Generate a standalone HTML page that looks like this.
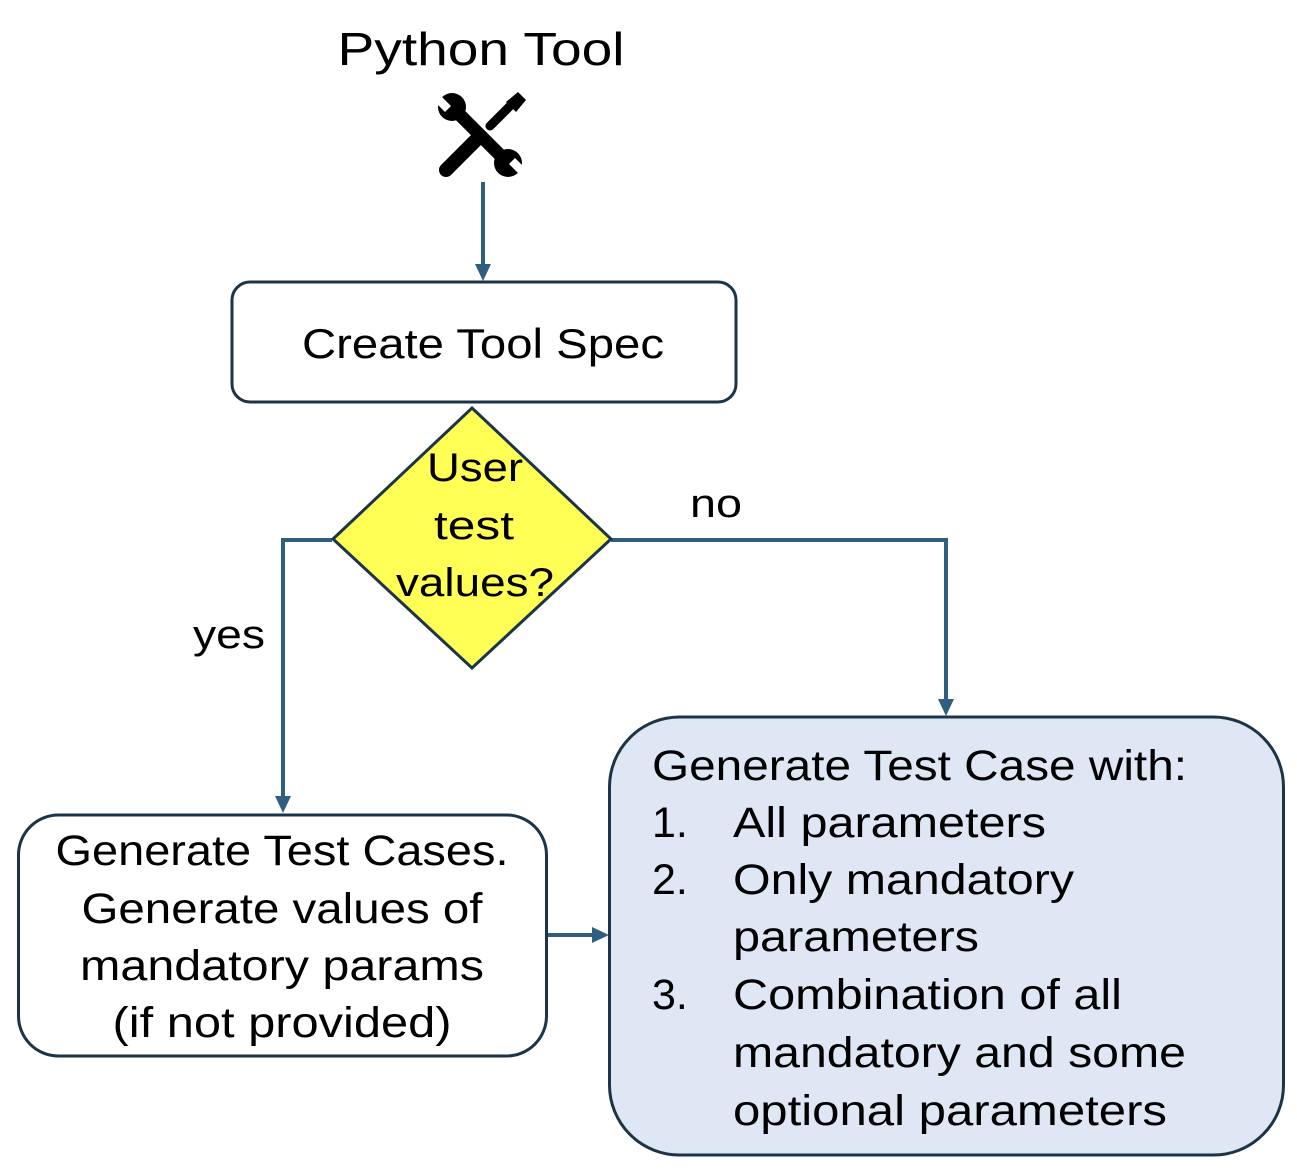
<!DOCTYPE html>
<html><head><meta charset="utf-8"><style>html,body{margin:0;padding:0;background:#fff}svg{display:block}</style></head>
<body>
<svg width="1297" height="1170" viewBox="0 0 1297 1170" xmlns="http://www.w3.org/2000/svg" font-family="'Liberation Sans', sans-serif" fill="#000">
<defs>
<marker id="ah" markerWidth="10" markerHeight="10" refX="5" refY="5" orient="auto" markerUnits="userSpaceOnUse" viewBox="0 0 10 10">
</marker>
</defs>
<text x="481" y="65" font-size="46" text-anchor="middle" textLength="287" lengthAdjust="spacingAndGlyphs">Python Tool</text>
<!-- icon -->
<g>
  <!-- screwdriver -->
  <line x1="446" y1="170" x2="478" y2="138" stroke="#000" stroke-width="14" stroke-linecap="round"/>
  <line x1="490" y1="126" x2="512" y2="104" stroke="#000" stroke-width="9" stroke-linecap="round"/>
  <path d="M506 102 L518 92 L526 100 L516 112 Z" fill="#000"/>
  <!-- wrench -->
  <line x1="455" y1="110" x2="505" y2="160" stroke="#000" stroke-width="13"/>
  <circle cx="452" cy="107" r="14" fill="#000"/>
  <circle cx="508" cy="163" r="14" fill="#000"/>
  <path d="M433 100 L445 112 L451 106 L439 94 Z" fill="#fff"/>
  <path d="M527 170 L515 158 L509 164 L521 176 Z" fill="#fff"/>
</g>
<g stroke="#2e5f80" stroke-width="4" fill="none">
  <line x1="483" y1="182" x2="483" y2="266"/>
  <polyline points="332,540 283,540 283,798"/>
  <polyline points="611,540 946,540 946,701"/>
  <line x1="547" y1="935" x2="594" y2="935"/>
</g>
<g fill="#2e5f80">
  <path d="M475 264 L491 264 L483 281 Z"/>
  <path d="M275 796 L291 796 L283 813 Z"/>
  <path d="M938 699 L954 699 L946 716 Z"/>
  <path d="M592 927 L592 943 L609 935 Z"/>
</g>
<rect x="232" y="282" width="504" height="120" rx="18" fill="#fff" stroke="#1b3447" stroke-width="3"/>
<text x="483" y="358" font-size="42" text-anchor="middle" textLength="362" lengthAdjust="spacingAndGlyphs">Create Tool Spec</text>
<polygon points="472,408 611,539 472,668 333,539" fill="#ffff55" stroke="#1b3447" stroke-width="3"/>
<g font-size="40" text-anchor="middle">
<text x="475" y="481" textLength="96" lengthAdjust="spacingAndGlyphs">User</text>
<text x="474" y="539" textLength="80" lengthAdjust="spacingAndGlyphs">test</text>
<text x="475" y="596" textLength="158" lengthAdjust="spacingAndGlyphs">values?</text>
</g>
<text x="690" y="517" font-size="40" textLength="52" lengthAdjust="spacingAndGlyphs">no</text>
<text x="193" y="648" font-size="40" textLength="72" lengthAdjust="spacingAndGlyphs">yes</text>
<rect x="18.5" y="815" width="528" height="241" rx="40" fill="#fff" stroke="#1b3447" stroke-width="3"/>
<g font-size="43" text-anchor="middle">
<text x="282" y="865" textLength="453" lengthAdjust="spacingAndGlyphs">Generate Test Cases.</text>
<text x="282" y="923" textLength="401" lengthAdjust="spacingAndGlyphs">Generate values of</text>
<text x="282" y="980" textLength="404" lengthAdjust="spacingAndGlyphs">mandatory params</text>
<text x="282" y="1037" textLength="339" lengthAdjust="spacingAndGlyphs">(if not provided)</text>
</g>
<rect x="609.5" y="717" width="674" height="438" rx="70" fill="#dee7f3" stroke="#1b3447" stroke-width="3"/>
<g font-size="43">
<text x="652" y="780" textLength="535" lengthAdjust="spacingAndGlyphs">Generate Test Case with:</text>
<text x="652" y="837">1.</text>
<text x="733" y="837" textLength="313" lengthAdjust="spacingAndGlyphs">All parameters</text>
<text x="652" y="894">2.</text>
<text x="733" y="894" textLength="341" lengthAdjust="spacingAndGlyphs">Only mandatory</text>
<text x="733" y="951" textLength="246" lengthAdjust="spacingAndGlyphs">parameters</text>
<text x="652" y="1009">3.</text>
<text x="733" y="1009" textLength="389" lengthAdjust="spacingAndGlyphs">Combination of all</text>
<text x="733" y="1067" textLength="453" lengthAdjust="spacingAndGlyphs">mandatory and some</text>
<text x="733" y="1125" textLength="434" lengthAdjust="spacingAndGlyphs">optional parameters</text>
</g>
</svg>
</body></html>
